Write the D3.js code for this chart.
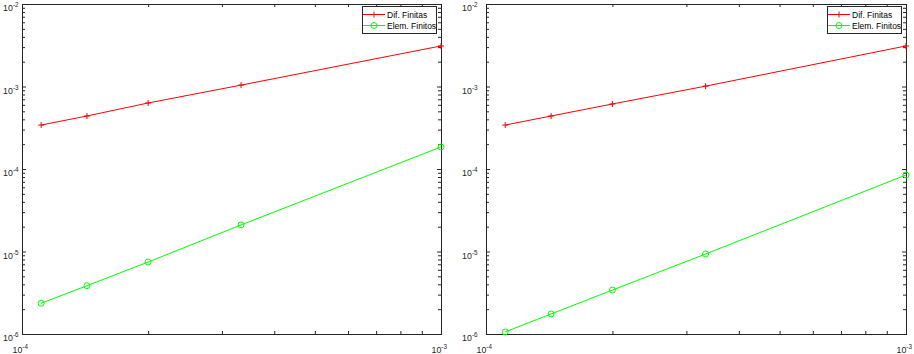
<!DOCTYPE html>
<html><head><meta charset="utf-8">
<script src="https://cdn.jsdelivr.net/npm/d3@7"></script>
<style>body{margin:0;background:#fff}svg{display:block;font-family:"Liberation Sans",Arial,Helvetica,sans-serif}</style>
</head><body><svg id="c" width="914" height="354"></svg>
<script>
// ---- data ----
const hValues = [1.111e-4, 1.429e-4, 2.0e-4, 3.333e-4, 1.0e-3];
const difFinitasLeft  = [3.41e-4, 4.39e-4, 6.31e-4, 1.04e-3, 3.10e-3];
const elemFinitosLeft = [2.36e-6, 3.85e-6, 7.46e-6, 2.10e-5, 1.85e-4];
const difFinitasRight  = [3.41e-4, 4.39e-4, 6.14e-4, 1.01e-3, 3.10e-3];
const elemFinitosRight = [1.06e-6, 1.75e-6, 3.41e-6, 9.33e-6, 8.46e-5];
const seriesNames = ["Dif. Finitas", "Elem. Finitos"];
const xDomain = [1e-4, 1e-3];
const yDomain = [1e-6, 1e-2];
const xMajorExps = [-4, -3];
const yMajorExps = [-6, -5, -4, -3, -2];

// ---- drawing ----
const svg = d3.select("#c");
const AX = "#262626";
const plotTop = 4, plotBottom = 334;
const isMajor = v => Math.abs(Math.log10(v) - Math.round(Math.log10(v))) < 1e-9;

function powLabel(g, x, y, exp, anchor) {
  const t = g.append("text").attr("x", x).attr("y", y).attr("fill", AX)
    .attr("font-size", 8.8).attr("text-anchor", anchor);
  t.append("tspan").text("10");
  t.append("tspan").attr("dy", -4).attr("font-size", 6.3).text("-" + Math.abs(exp));
  return t;
}

function drawPanel(x0, x1, dif, elem, yLabelGap) {
  const g = svg.append("g");
  const x = d3.scaleLog().domain(xDomain).range([x0, x1]);
  const y = d3.scaleLog().domain(yDomain).range([plotBottom, plotTop]);
  const xt = x.ticks(), yt = y.ticks();
  const xMaj = xt.filter(isMajor), xMin = xt.filter(v => !isMajor(v));
  const yMaj = yt.filter(isMajor), yMin = yt.filter(v => !isMajor(v));

  g.append("rect").attr("x", x0 + 0.5).attr("y", plotTop + 0.5)
    .attr("width", x1 - x0).attr("height", plotBottom - plotTop)
    .attr("fill", "#fff").attr("stroke", AX).attr("stroke-width", 1);

  const axes = [
    [d3.axisBottom(x), `translate(0,${plotBottom})`, xMaj, xMin],
    [d3.axisTop(x), `translate(0,${plotTop})`, xMaj, xMin],
    [d3.axisLeft(y), `translate(${x0},0)`, yMaj, yMin],
    [d3.axisRight(y), `translate(${x1},0)`, yMaj, yMin]
  ];
  axes.forEach(([ax, tr, maj, min]) => {
    [[maj, 4], [min, 3]].forEach(([vals, len]) => {
      ax.tickValues(vals).tickSize(-len).tickFormat("");
      g.append("g").attr("transform", tr).attr("color", AX).call(ax)
        .call(s => s.select(".domain").remove());
    });
  });

  // tick labels
  xMajorExps.forEach(e => powLabel(g, x(Math.pow(10, e)) - 9.5, plotBottom + 19, e, "start"));
  yMajorExps.forEach(e => powLabel(g, x0 - yLabelGap, y(Math.pow(10, e)) + 7, e, "end"));

  const line = d3.line().x(d => x(d[0])).y(d => y(d[1]));
  const difPts = hValues.map((h, i) => [h, dif[i]]);
  const elemPts = hValues.map((h, i) => [h, elem[i]]);

  g.append("path").attr("d", line(difPts)).attr("fill", "none").attr("stroke", "#ff0000").attr("stroke-width", 1);
  g.append("path").attr("d", line(elemPts)).attr("fill", "none").attr("stroke", "#00ff00").attr("stroke-width", 1);

  const plus = (cx, cy) => `M${cx - 3},${cy}H${cx + 3}M${cx},${cy - 3}V${cy + 3}`;
  g.selectAll(null).data(difPts).join("path")
    .attr("d", d => plus(x(d[0]), y(d[1]))).attr("stroke", "#ff0000").attr("fill", "none");
  g.selectAll(null).data(elemPts).join("circle")
    .attr("cx", d => x(d[0])).attr("cy", d => y(d[1])).attr("r", 3)
    .attr("stroke", "#00ff00").attr("fill", "none");

  // legend
  const lx = x1 - 79, ly = 6;
  g.append("rect").attr("x", lx + 0.5).attr("y", ly + 0.5).attr("width", 74).attr("height", 27)
    .attr("fill", "#fff").attr("stroke", AX).attr("stroke-width", 1);
  const rows = [
    {name: seriesNames[0], color: "#ff0000", yy: ly + 8.5, mk: "plus"},
    {name: seriesNames[1], color: "#00ff00", yy: ly + 19.5, mk: "circle"}
  ];
  rows.forEach(r => {
    g.append("line").attr("x1", lx + 1).attr("x2", lx + 23).attr("y1", r.yy).attr("y2", r.yy)
      .attr("stroke", r.color);
    if (r.mk === "plus") g.append("path").attr("d", plus(lx + 12, r.yy)).attr("stroke", r.color);
    else g.append("circle").attr("cx", lx + 12).attr("cy", r.yy).attr("r", 3).attr("fill", "none").attr("stroke", r.color);
    g.append("text").attr("x", lx + 25).attr("y", r.yy + 3).attr("font-size", 8.5).attr("fill", "#000").text(r.name);
  });
}

drawPanel(22, 441, difFinitasLeft, elemFinitosLeft, 3.5);
drawPanel(486, 906, difFinitasRight, elemFinitosRight, 8.5);
</script></body></html>
